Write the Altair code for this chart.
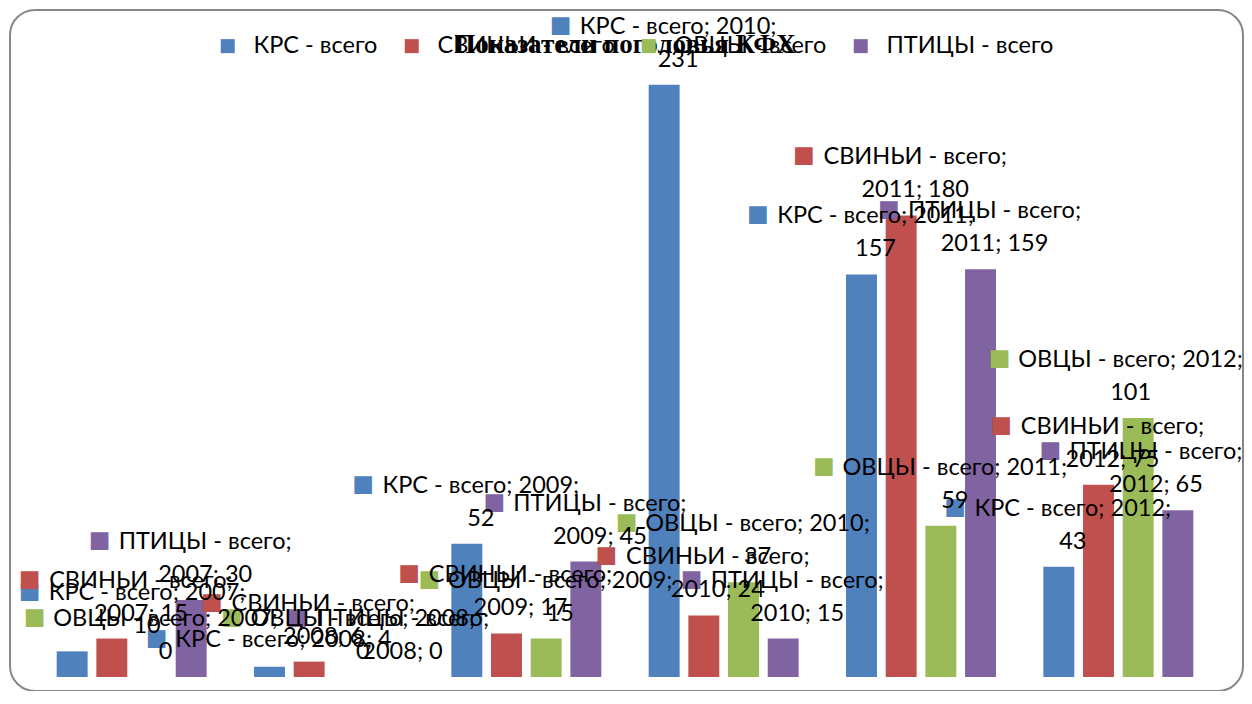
import altair as alt
import pandas as pd

years = ["2007", "2008", "2009", "2010", "2011", "2012"]
series = ["КРС - всего", "СВИНЬИ - всего", "ОВЦЫ - всего", "ПТИЦЫ - всего"]
krs = [10, 4, 52, 231, 157, 43]
svinyi = [15, 6, 17, 24, 180, 75]
ovcy = [0, 0, 15, 37, 59, 101]
ptitsy = [30, 0, 45, 15, 159, 65]
colors = ["#4F81BD", "#C0504D", "#9BBB59", "#8064A2"]
title_text = "Показатели поголовья КФХ"

FONT = "Lato"
FS = 23.5
WRAP = 224
W, H = 1184, 641

# approximate Lato advance widths (em) used to wrap labels and place the colour key
EM = {"К": .66, "Р": .60, "С": .67, "О": .76, "В": .64, "Ц": .75, "Ы": .88, "И": .75,
      "Н": .76, "Ь": .60, "П": .74, "Т": .57, "в": .51, "с": .45, "е": .50, "г": .39,
      "о": .53, " ": .193, "-": .335, ";": .24}


def text_width(t):
    return sum(EM.get(ch, .58) for ch in t) * FS * 1.03


def wrap(words):
    lines = [words[0]]
    for w in words[1:]:
        cand = lines[-1] + " " + w
        if text_width(cand) <= WRAP:
            lines[-1] = cand
        else:
            lines.append(w)
    return lines + [""] * (2 - len(lines))


values = [krs, svinyi, ovcy, ptitsy]
rows = []
for s, vals in zip(series, values):
    for yr, v in zip(years, vals):
        l1, l2 = wrap([f"{s};", f"{yr};", f"{v}"])
        rows.append(dict(year=yr, series=s, value=v, line1=l1, line2=l2, mk="■",
                         w1=text_width(l1)))
df = pd.DataFrame(rows)

x = alt.X("year:N", sort=years, axis=None,
          scale=alt.Scale(paddingInner=0.24, paddingOuter=0.12))
xo = alt.XOffset("series:N", sort=series,
                 scale=alt.Scale(paddingInner=0.22, paddingOuter=0))
y = alt.Y("value:Q", axis=None, scale=alt.Scale(domain=[0, 250], nice=False))
cscale = alt.Scale(domain=series, range=colors)
color = alt.Color(
    "series:N", sort=series, scale=cscale,
    legend=alt.Legend(orient="none", legendX=183, legendY=-2, direction="horizontal",
                      title=None, symbolType="square", symbolSize=196,
                      symbolStrokeWidth=0, labelFont=FONT, labelFontSize=FS,
                      labelColor="#000000", labelOffset=14, columnPadding=22,
                      labelLimit=0),
)

base = alt.Chart(df).encode(x=x, xOffset=xo, y=y)
bars = base.mark_bar().encode(color=color)

C = "(scale('x', datum.year) + scale('xOffset', datum.series) + bandwidth('xOffset') / 2)"
TC = f"clamp({C} + 14, -11 + 28 + datum.w1 / 2, 1208 - datum.w1 / 2)"
ONE = "datum.line2 == ''"

squares = base.mark_text(font="DejaVu Sans", fontSize=23, baseline="middle", align="center",
                         dy=alt.expr(f"{ONE} ? -29 : -60"),
                         dx=alt.expr(f"{TC} - datum.w1 / 2 - 20.5 - {C}")).encode(
    text="mk:N", color=alt.Color("series:N", sort=series, scale=cscale, legend=None))
text1 = base.mark_text(font=FONT, fontSize=FS, color="#000000", baseline="middle",
                       align="center", dy=alt.expr(f"{ONE} ? -27 : -58"),
                       dx=alt.expr(f"{TC} - {C}")).encode(text="line1:N")
text2 = base.mark_text(font=FONT, fontSize=FS, color="#000000", baseline="middle",
                       align="center", dy=-25, dx=alt.expr(f"{TC} - {C}")).encode(text="line2:N")

one = pd.DataFrame({"t": [title_text]})
frame = alt.Chart(one).mark_rect(
    cornerRadius=25, fill="transparent", stroke="#878787", strokeWidth=2
).encode(x=alt.value(-23), x2=alt.value(1210), y=alt.value(-26), y2=alt.value(655))

title = alt.Chart(one).mark_text(font="Liberation Serif", fontWeight="bold", fontSize=27,
                                 color="#000000", align="center", baseline="middle").encode(
    text="t:N", x=alt.value(592), y=alt.value(9))

chart = alt.layer(frame, bars, title, squares, text1, text2).properties(
    width=W, height=H,
    padding={"left": 25, "top": 28, "right": 27, "bottom": 14},
    autosize=alt.AutoSizeParams(type="none"),
).configure_view(stroke="transparent")

chart.save("out.html", embed_options={"renderer": "svg", "actions": False})
